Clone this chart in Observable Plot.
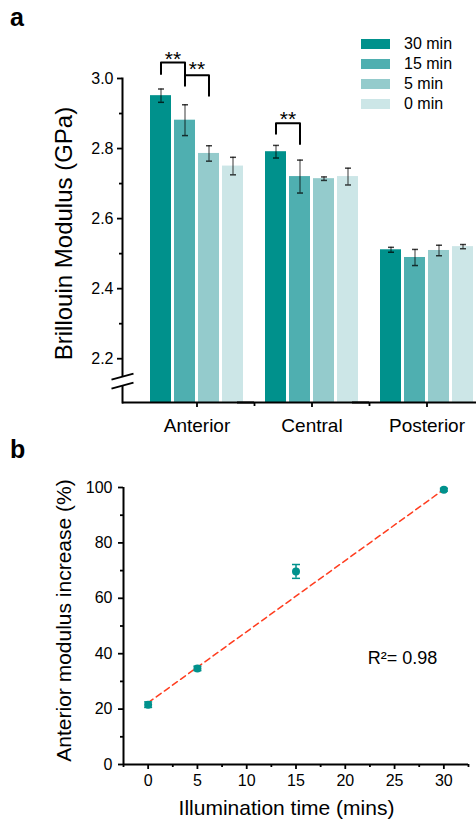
<!DOCTYPE html>
<html>
<head>
<meta charset="utf-8">
<script src="https://cdn.jsdelivr.net/npm/d3@7"></script>
<script src="https://cdn.jsdelivr.net/npm/@observablehq/plot@0.6"></script>
<style>
  html, body { margin: 0; padding: 0; background: #fff; overflow: hidden; }
  #wrap { position: relative; width: 476px; height: 821px; font-family: "Liberation Sans", Arial, Helvetica, sans-serif; color: #000; }
  .panel { position: absolute; left: 0; }
  .tag { position: absolute; font-weight: bold; font-size: 25px; line-height: 25px; }
  .legend { position: absolute; left: 361px; top: 34px; }
  .legend .row { height: 20px; display: flex; align-items: center; font-size: 16px; line-height: 20px; }
  .legend .sw { width: 29px; height: 10px; margin-right: 14px; }
</style>
</head>
<body>
<div id="wrap">
  <div class="tag" style="left:10px;top:5px;">a</div>
  <div class="tag" style="left:10px;top:437px;">b</div>
  <div id="top" class="panel" style="top:0px;"></div>
  <div id="bottom" class="panel" style="top:440px;"></div>
  <div id="legend" class="legend"></div>
</div>
<script>
const FONT = '"Liberation Sans", Arial, Helvetica, sans-serif';

// ---------- Panel a data ----------
const regions = ["Anterior", "Central", "Posterior"];
const series = ["30 min", "15 min", "5 min", "0 min"];
const seriesColors = ["#00918c", "#4fafb0", "#94cbcc", "#cce6e7"];
const anteriorMean = [2.951, 2.881, 2.786, 2.750];
const anteriorErr  = [0.019, 0.044, 0.022, 0.025];
const centralMean  = [2.791, 2.720, 2.714, 2.720];
const centralErr   = [0.018, 0.047, 0.005, 0.024];
const posteriorMean = [2.511, 2.489, 2.509, 2.520];
const posteriorErr  = [0.007, 0.023, 0.015, 0.006];
const yTicksA = [2.2, 2.4, 2.6, 2.8, 3.0];
const yMinorA = [2.3, 2.5, 2.7, 2.9];
const yBaseA = 2.075;
const yTopA = 3.0;
const yBreakA = 2.136;
const xMinorBefore = ["Central", "Posterior"];
const yLabelA = "Brillouin Modulus (GPa)";
// significance brackets
const sigRegion = ["Anterior", "Anterior", "Central"];
const sigFrom = ["30 min", "15 min", "30 min"];
const sigTo = ["15 min", "5 min", "15 min"];
const sigTop = [3.046, 3.009, 2.872];
const sigFromEnd = [3.013, 2.979, 2.842];
const sigToEnd = [2.985, 2.951, 2.813];
const sigStarY = [3.055, 3.025, 2.884];
const sigText = ["**", "**", "**"];

// ---------- Panel b data ----------
const times = [0, 5, 15, 30];
const increase = [21.6, 34.7, 69.7, 99.2];
const increaseErr = [1.0, 0.8, 2.5, 0.5];
const fitTimes = [0, 30];
const fitIncrease = [22.3, 99.3];
const xTicksB = [0, 5, 10, 15, 20, 25, 30];
const xMinorB = [-2.5, 2.5, 7.5, 12.5, 17.5, 22.5, 27.5, 32.5];
const yTicksB = [0, 20, 40, 60, 80, 100];
const yMinorB = [10, 30, 50, 70, 90];
const xDomainB = [-2.5, 32.5];
const yDomainB = [0, 100];
const xLabelB = "Illumination time (mins)";
const yLabelB = "Anterior modulus increase (%)";
const r2Text = "R\u00b2= 0.98";
const r2X = 25.8, r2Y = 38.3;
const pointColor = "#00918c";
const fitColor = "#ff3d1f";

// ---------- build tables ----------
const means = [anteriorMean, centralMean, posteriorMean];
const errs = [anteriorErr, centralErr, posteriorErr];
const barRows = [];
regions.forEach((r, gi) => series.forEach((s, si) => barRows.push({region: r, series: s, mean: means[gi][si], err: errs[gi][si]})));
const bracketPts = [];
const starRows = [];
sigRegion.forEach((r, i) => {
  bracketPts.push({id: i, region: r, series: sigFrom[i], y: sigFromEnd[i]});
  bracketPts.push({id: i, region: r, series: sigFrom[i], y: sigTop[i]});
  bracketPts.push({id: i, region: r, series: sigTo[i], y: sigTop[i]});
  bracketPts.push({id: i, region: r, series: sigTo[i], y: sigToEnd[i]});
  starRows.push({region: r, series: sigFrom[i], y: sigStarY[i], text: sigText[i]});
});
const ptRows = times.map((t, i) => ({t, v: increase[i], e: increaseErr[i]}));
const fitRows = fitTimes.map((t, i) => ({t, v: fitIncrease[i]}));

// custom symbols
const capA = {draw(ctx) { ctx.moveTo(-3, 0); ctx.lineTo(3, 0); }};
const capB = {draw(ctx) { ctx.moveTo(-4, 0); ctx.lineTo(4, 0); }};
const tickDown = {draw(ctx) { ctx.moveTo(0, 0); ctx.lineTo(0, 3.5); }};
const breakFill = {draw(ctx) { ctx.moveTo(-12, -1.5); ctx.lineTo(12, -8); ctx.lineTo(12, 1.5); ctx.lineTo(-12, 8); ctx.closePath(); }};
const breakLines = {draw(ctx) {
  ctx.moveTo(-11, -1.5); ctx.lineTo(11, -7.5);
  ctx.moveTo(-11, 7.5); ctx.lineTo(11, 1.5);
}};

// ---------- Panel a ----------
const topPlot = Plot.plot({
  width: 476, height: 440,
  marginLeft: 122, marginRight: 0, marginTop: 78, marginBottom: 38,
  style: {fontFamily: FONT, fontSize: "16px", background: "transparent", color: "#000", overflow: "visible"},
  fx: {domain: regions, paddingInner: 22 / 115, paddingOuter: 0.13478, align: 0.9032, round: false, axis: null, label: null},
  x: {domain: series, paddingInner: 0.125, paddingOuter: 0, round: false, axis: null},
  y: {domain: [yBaseA, yTopA], axis: null, label: null},
  color: {domain: series, range: seriesColors},
  marks: [
    Plot.barY(barRows, {fx: "region", x: "series", y1: yBaseA, y2: "mean", fill: "series"}),
    Plot.ruleX(barRows, {fx: "region", x: "series", y1: d => d.mean - d.err, y2: d => d.mean + d.err, stroke: "#000", strokeOpacity: 0.6, strokeWidth: 1.3}),
    Plot.dot(barRows, {fx: "region", x: "series", y: d => d.mean - d.err, symbol: capA, fill: "none", stroke: "#000", strokeOpacity: 0.75, strokeWidth: 1.5}),
    Plot.dot(barRows, {fx: "region", x: "series", y: d => d.mean + d.err, symbol: capA, fill: "none", stroke: "#000", strokeOpacity: 0.75, strokeWidth: 1.5}),
    // x axis
    Plot.ruleY([yBaseA], {insetLeft: -28, insetRight: -11, stroke: "#000", strokeWidth: 2}),
    Plot.axisFx({anchor: "bottom", tickSize: 5, tickPadding: 11, fontSize: 19, label: null, strokeWidth: 1.8}),
    Plot.dot(xMinorBefore.map(r => ({region: r})), {fx: "region", frameAnchor: "bottom-left", dx: -11, symbol: tickDown, fill: "none", stroke: "#000", strokeWidth: 1.8}),
    // y axis
    Plot.frame({anchor: "left", dx: -28, facetAnchor: "left", stroke: "#000", strokeWidth: 2}),
    Plot.axisY({ticks: yTicksA, tickSize: 5, tickPadding: 4, dx: -28, tickFormat: d3.format(".1f"), fontSize: 16, label: null, strokeWidth: 1.8}),
    Plot.axisY({ticks: yMinorA, tickSize: 3, dx: -28, tickFormat: () => "", label: null, strokeWidth: 1.8}),
    Plot.dot([{region: "Anterior", y: yBreakA}], {fx: "region", y: "y", frameAnchor: "left", dx: -28, symbol: breakFill, fill: "#fff", stroke: "none"}),
    Plot.dot([{region: "Anterior", y: yBreakA}], {fx: "region", y: "y", frameAnchor: "left", dx: -28, symbol: breakLines, fill: "none", stroke: "#000", strokeWidth: 2}),
    Plot.text([{region: "Anterior"}], {fx: "region", frameAnchor: "left", textAnchor: "middle", lineAnchor: "middle", rotate: -90, text: () => yLabelA, dx: -86.5, dy: -7, fontSize: 24}),
    // significance
    Plot.line(bracketPts, {fx: "region", x: "series", y: "y", z: "id", stroke: "#000", strokeWidth: 2, curve: "linear"}),
    Plot.text(starRows, {fx: "region", x: "series", y: "y", text: "text", dx: 12, fontSize: 21})
  ]
});
document.getElementById("top").appendChild(topPlot);

// ---------- Panel b ----------
const bottomPlot = Plot.plot({
  width: 476, height: 381,
  marginLeft: 123, marginRight: 8, marginTop: 47, marginBottom: 57,
  style: {fontFamily: FONT, fontSize: "16px", background: "transparent", color: "#000", overflow: "visible"},
  x: {domain: xDomainB, axis: null},
  y: {domain: yDomainB, axis: null},
  marks: [
    Plot.line(fitRows, {x: "t", y: "v", stroke: fitColor, strokeWidth: 1.5, strokeDasharray: "6,4"}),
    Plot.ruleX(ptRows, {x: "t", y1: d => d.v - d.e, y2: d => d.v + d.e, stroke: pointColor, strokeWidth: 1.5}),
    Plot.dot(ptRows, {x: "t", y: d => d.v - d.e, symbol: capB, fill: "none", stroke: pointColor, strokeWidth: 1.5}),
    Plot.dot(ptRows, {x: "t", y: d => d.v + d.e, symbol: capB, fill: "none", stroke: pointColor, strokeWidth: 1.5}),
    Plot.dot(ptRows, {x: "t", y: "v", r: 4, fill: pointColor, stroke: "none"}),
    Plot.ruleX([xDomainB[0]], {y1: yDomainB[0], y2: yDomainB[1], stroke: "#000", strokeWidth: 2}),
    Plot.ruleY([yDomainB[0]], {x1: xDomainB[0], x2: xDomainB[1], stroke: "#000", strokeWidth: 2}),
    Plot.axisY({ticks: yTicksB, tickSize: 5, tickPadding: 6, fontSize: 16, label: null, strokeWidth: 1.8}),
    Plot.axisY({ticks: yMinorB, tickSize: 3, tickFormat: () => "", label: null, strokeWidth: 1.8}),
    Plot.axisX({ticks: xTicksB, tickSize: 5, tickPadding: 5, fontSize: 16, label: null, strokeWidth: 1.8}),
    Plot.axisX({ticks: xMinorB, tickSize: 3, tickFormat: () => "", label: null, strokeWidth: 1.8}),
    Plot.text([xLabelB], {frameAnchor: "bottom", textAnchor: "middle", lineAnchor: "middle", text: d => d, dx: -9.5, dy: 43.3, fontSize: 21}),
    Plot.text([yLabelB], {frameAnchor: "left", textAnchor: "middle", lineAnchor: "middle", rotate: -90, text: d => d, dx: -59, dy: -5.5, fontSize: 21}),
    Plot.text([r2Text], {x: () => r2X, y: () => r2Y, text: d => d, fontSize: 18})
  ]
});
document.getElementById("bottom").appendChild(bottomPlot);

// ---------- legend ----------
const leg = document.getElementById("legend");
series.forEach((s, i) => {
  const row = document.createElement("div");
  row.className = "row";
  const sw = document.createElement("div");
  sw.className = "sw";
  sw.style.background = seriesColors[i];
  const lab = document.createElement("span");
  lab.textContent = s;
  row.appendChild(sw);
  row.appendChild(lab);
  leg.appendChild(row);
});
</script>
</body>
</html>
